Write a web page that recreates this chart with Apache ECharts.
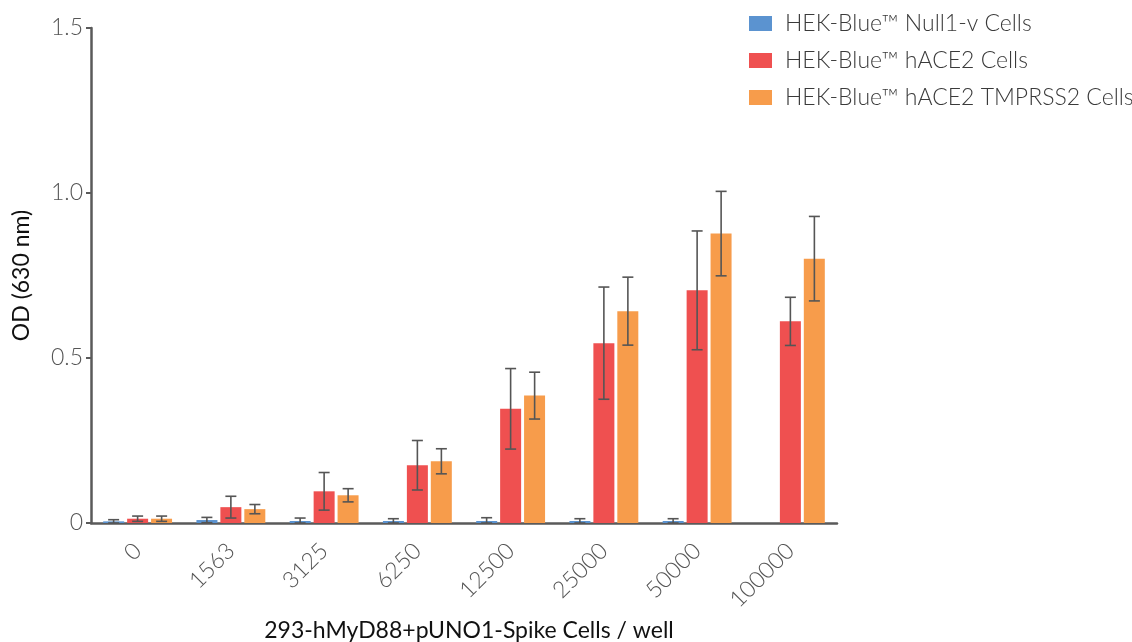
<!DOCTYPE html>
<html>
<head>
<meta charset="utf-8">
<script src="https://cdn.jsdelivr.net/npm/echarts@6/dist/echarts.min.js"></script>
<style>
html,body{margin:0;padding:0;background:#fff;}
#chart{width:1132px;height:642px;}
</style>
</head>
<body>
<div id="chart"></div>
<script>
const categories = ['0','1563','3125','6250','12500','25000','50000','100000'];
const seriesNames = ['HEK-Blue\u2122 Null1-v Cells','HEK-Blue\u2122 hACE2 Cells','HEK-Blue\u2122 hACE2 TMPRSS2 Cells'];
const nullValues   = [0.005, 0.009, 0.006, 0.006, 0.006, 0.006, 0.006, null];
const nullErrors   = [0.005, 0.008, 0.009, 0.007, 0.010, 0.007, 0.007, null];
const ace2Values   = [0.013, 0.048, 0.096, 0.175, 0.346, 0.545, 0.705, 0.611];
const ace2Errors   = [0.008, 0.033, 0.057, 0.075, 0.122, 0.170, 0.180, 0.073];
const tmprssValues = [0.013, 0.042, 0.084, 0.187, 0.386, 0.642, 0.877, 0.801];
const tmprssErrors = [0.008, 0.014, 0.020, 0.038, 0.071, 0.103, 0.128, 0.128];
const yTicks = [0, 0.5, 1.0, 1.5];

const colors = ['#5b93d0', '#ef5050', '#f79c4b'];
const valueSets = [nullValues, ace2Values, tmprssValues];
const errorSets = [nullErrors, ace2Errors, tmprssErrors];
const BAR_W = 21, BAR_STEP = 24;

const series = [];
valueSets.forEach((vals, i) => {
  series.push({
    name: seriesNames[i], type: 'bar', data: vals,
    barWidth: BAR_W, barGap: '14%',
    itemStyle: {color: colors[i]}, z: 2
  });
});
valueSets.forEach((vals, i) => {
  const data = [];
  vals.forEach((v, k) => {
    if (v == null) return;
    data.push([k, Math.max(0, v - errorSets[i][k]), v + errorSets[i][k]]);
  });
  series.push({
    type: 'custom', name: seriesNames[i] + ' err', z: 5,
    encode: {x: 0, y: [1, 2]},
    data: data,
    renderItem: function (params, api) {
      const k = api.value(0);
      const lo = api.coord([k, api.value(1)]);
      const hi = api.coord([k, api.value(2)]);
      const x = lo[0] + (i - 1) * BAR_STEP;
      const cap = 5.5;
      const st = {stroke: '#555', lineWidth: 1.6};
      return {type: 'group', children: [
        {type: 'line', shape: {x1: x, y1: hi[1], x2: x, y2: lo[1]}, style: st},
        {type: 'line', shape: {x1: x - cap, y1: hi[1], x2: x + cap, y2: hi[1]}, style: st},
        {type: 'line', shape: {x1: x - cap, y1: lo[1], x2: x + cap, y2: lo[1]}, style: st}
      ]};
    },
    tooltip: {show: false}
  });
});

const chart = echarts.init(document.getElementById('chart'));
chart.setOption({
  animation: false,
  textStyle: {fontFamily: 'Lato'},
  grid: {left: 91, right: 295, top: 28, bottom: 119, containLabel: false, outerBoundsMode: 'none'},
  legend: {
    orient: 'vertical', left: 744, top: 7,
    itemWidth: 23, itemHeight: 15, itemGap: 14, icon: 'rect',
    data: seriesNames,
    textStyle: {fontFamily: 'Lato', fontSize: 23, fontWeight: 300, color: '#3a3a3a', padding: [0, 0, 0, 8]}
  },
  xAxis: {
    type: 'category', data: categories,
    name: '293-hMyD88+pUNO1-Spike Cells / well',
    nameLocation: 'middle', nameGap: 93,
    nameTextStyle: {fontFamily: 'Lato', fontSize: 23, color: '#111', padding: [0, 0, 0, 10]},
    axisLine: {lineStyle: {color: '#5a5a5a', width: 2.5}},
    axisTick: {alignWithLabel: true, length: 7, lineStyle: {color: '#5a5a5a', width: 2.5}},
    axisLabel: {rotate: 45, fontFamily: 'Lato', fontSize: 23, fontWeight: 300, color: '#555', margin: 24}
  },
  yAxis: {
    type: 'value', min: 0, max: 1.5, interval: 0.5,
    name: 'OD (630 nm)', nameLocation: 'middle', nameGap: 58,
    nameTextStyle: {fontFamily: 'Lato', fontSize: 23, color: '#111'},
    axisLine: {show: true, lineStyle: {color: '#5a5a5a', width: 2.5}},
    axisTick: {show: true, length: 5, lineStyle: {color: '#5a5a5a', width: 2}},
    splitLine: {show: false},
    axisLabel: {
      fontFamily: 'Lato', fontSize: 23, fontWeight: 300, color: '#555', margin: 8,
      formatter: function (v) {
        const t = yTicks.find(y => Math.abs(y - v) < 1e-9);
        return t === 0 ? '0' : t.toFixed(1);
      }
    }
  },
  series: series
});
</script>
</body>
</html>
